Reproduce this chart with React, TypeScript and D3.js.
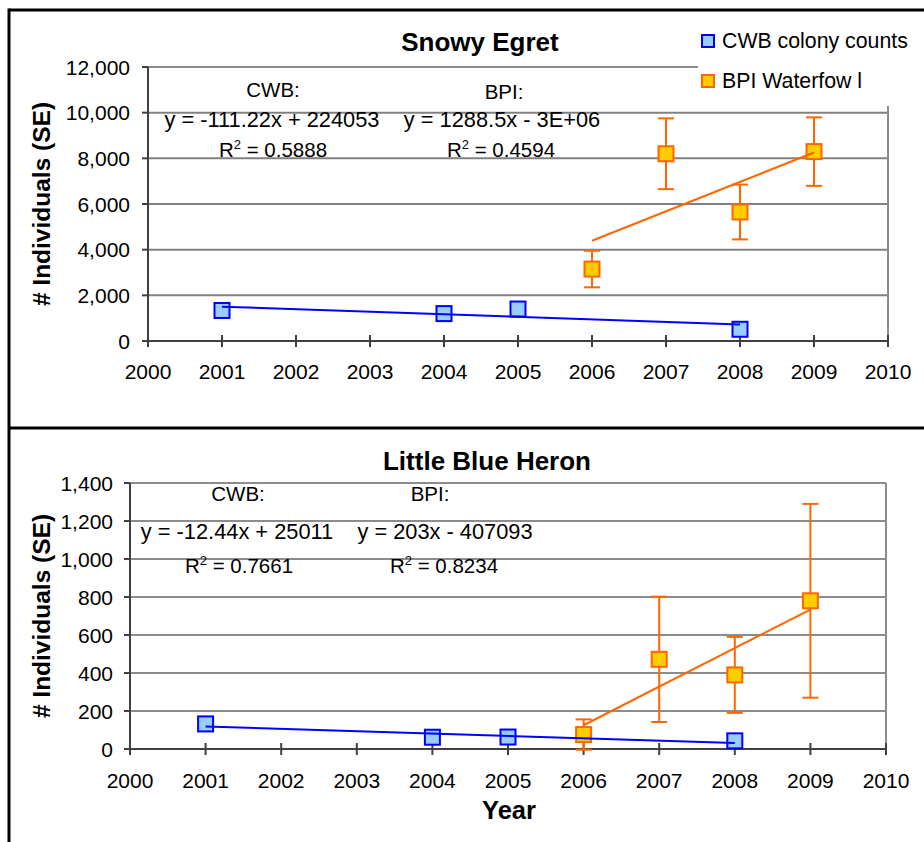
import React from "react";
import * as d3 from "d3";

// Survey years for each data source
const cwbYears = [2001, 2004, 2005, 2008];
const bpiYears = [2006, 2007, 2008, 2009];

// Snowy Egret counts
const egretCwb = [1337, 1200, 1400, 514];
const egretBpi = [3150, 8200, 5650, 8295];
const egretBpiSe = [800, 1550, 1200, 1500];

// Little Blue Heron counts
const heronCwb = [132, 62, 63, 43];
const heronBpi = [76, 472, 390, 780];
const heronBpiSe = [80, 330, 200, 510];

const yearTicks = d3.range(2000, 2011);
const egretTicks = d3.range(0, 12001, 2000);
const heronTicks = d3.range(0, 1401, 200);

const legendLabels = ["CWB colony counts", "BPI Waterfow l"];

const egretCwbLabel = ["CWB:", "y = -111.22x + 224053", "0.5888"];
const egretBpiLabel = ["BPI:", "y = 1288.5x - 3E+06", "0.4594"];
const heronCwbLabel = ["CWB:", "y = -12.44x + 25011", "0.7661"];
const heronBpiLabel = ["BPI:", "y = 203x - 407093", "0.8234"];

const FONT = "'Liberation Sans', Arial, Helvetica, sans-serif";
const BLUE = "#0000FF";
const BLUE_FILL = "#99CCFF";
const ORANGE = "#FF6600";
const ORANGE_FILL = "#FFCC00";

// Ordinary least-squares line through (x, y)
function fit(xs: number[], ys: number[]) {
  const mx = d3.mean(xs) as number;
  const my = d3.mean(ys) as number;
  let sxy = 0;
  let sxx = 0;
  xs.forEach((x, i) => {
    sxy += (x - mx) * (ys[i] - my);
    sxx += (x - mx) * (x - mx);
  });
  const slope = sxy / sxx;
  return { slope, intercept: my - slope * mx };
}

type Note = { lines: string[]; cx: number[]; base: number[] };

type PanelProps = {
  title: string;
  titleX: number;
  titleY: number;
  x0: number;
  x1: number;
  yBottom: number;
  yTop: number;
  yMax: number;
  yTicks: number[];
  cwb: number[];
  bpi: number[];
  bpiSe: number[];
  notes: Note[];
  labelGap: number;
  xLabelBase: number;
  gridColor: string;
  gridWidth: number;
  borderClipX?: number;
  borderClipY?: number;
};

function Marker({ cx, cy, fill, stroke, size }: any) {
  return (
    <rect
      x={cx - size / 2}
      y={cy - size / 2}
      width={size}
      height={size}
      fill={fill}
      stroke={stroke}
      strokeWidth={2}
    />
  );
}

function Panel(p: PanelProps) {
  const x = d3.scaleLinear().domain([2000, 2010]).range([p.x0, p.x1]);
  const y = d3.scaleLinear().domain([0, p.yMax]).range([p.yBottom, p.yTop]);
  const fmt = d3.format(",");
  const cwbFit = fit(cwbYears, p.cwb);
  const bpiFit = fit(bpiYears, p.bpi);
  const line = d3
    .line<number>()
    .x((d) => x(d))
    .y((d) => 0);
  const fitPath = (f: { slope: number; intercept: number }, xs: number[]) =>
    line.y((d) => y(f.slope * d + f.intercept))([xs[0], xs[xs.length - 1]]) as string;
  const topRight = p.borderClipX ?? p.x1;
  const rightTop = p.borderClipY ?? p.yTop;

  return (
    <g fontFamily={FONT}>
      <text x={p.titleX} y={p.titleY} textAnchor="middle" fontSize={26} fontWeight="bold">
        {p.title}
      </text>

      {/* gridlines */}
      {p.yTicks.slice(1, -1).map((t) => (
        <line
          key={t}
          x1={p.x0}
          x2={p.x1}
          y1={y(t)}
          y2={y(t)}
          stroke={p.gridColor}
          strokeWidth={p.gridWidth}
        />
      ))}
      {/* plot area border, top and right */}
      <line x1={p.x0} x2={topRight} y1={p.yTop} y2={p.yTop} stroke="#8c8c8c" strokeWidth={2} />
      <line x1={p.x1} x2={p.x1} y1={rightTop} y2={p.yBottom} stroke="#8c8c8c" strokeWidth={2} />

      {/* y axis */}
      <line x1={p.x0} x2={p.x0} y1={p.yTop} y2={p.yBottom + 6} stroke="#404040" strokeWidth={2} />
      {p.yTicks.map((t) => (
        <g key={t}>
          <line x1={p.x0 - 6} x2={p.x0} y1={y(t)} y2={y(t)} stroke="#404040" strokeWidth={2} />
          <text
            x={p.x0 - p.labelGap}
            y={y(t)}
            dy="0.36em"
            textAnchor="end"
            fontSize={21}
          >
            {fmt(t)}
          </text>
        </g>
      ))}

      {/* x axis */}
      <line x1={p.x0} x2={p.x1} y1={p.yBottom} y2={p.yBottom} stroke="#404040" strokeWidth={2} />
      {yearTicks.map((t) => (
        <g key={t}>
          <line
            x1={x(t)}
            x2={x(t)}
            y1={p.yBottom - 6}
            y2={p.yBottom + 6}
            stroke="#404040"
            strokeWidth={2}
          />
          <text x={x(t)} y={p.xLabelBase} textAnchor="middle" fontSize={21}>
            {t}
          </text>
        </g>
      ))}

      {/* trendline equations */}
      {p.notes.map((n, i) => (
        <g key={i} fontSize={20.5}>
          <text x={n.cx[0]} y={n.base[0]} textAnchor="middle">
            {n.lines[0]}
          </text>
          <text x={n.cx[1]} y={n.base[1]} textAnchor="middle" fontSize={21.8}>
            {n.lines[1]}
          </text>
          <text x={n.cx[2]} y={n.base[2]} textAnchor="middle">
            R<tspan fontSize={13} dy={-8}>2</tspan>
            <tspan dy={8}>{" = " + n.lines[2]}</tspan>
          </text>
        </g>
      ))}

      {/* BPI error bars */}
      {bpiYears.map((yr, i) => {
        const hi = y(p.bpi[i] + p.bpiSe[i]);
        const lo = y(p.bpi[i] - p.bpiSe[i]);
        const cx = x(yr);
        return (
          <g key={yr} stroke={ORANGE} strokeWidth={2}>
            <line x1={cx} x2={cx} y1={hi} y2={lo} />
            <line x1={cx - 8} x2={cx + 8} y1={hi} y2={hi} />
            <line x1={cx - 8} x2={cx + 8} y1={lo} y2={lo} />
          </g>
        );
      })}

      {/* markers */}
      {cwbYears.map((yr, i) => (
        <Marker key={"c" + yr} cx={x(yr)} cy={y(p.cwb[i])} fill={BLUE_FILL} stroke={BLUE} size={15} />
      ))}
      {bpiYears.map((yr, i) => (
        <Marker key={"b" + yr} cx={x(yr)} cy={y(p.bpi[i])} fill={ORANGE_FILL} stroke={ORANGE} size={15} />
      ))}

      {/* linear trendlines */}
      <path d={fitPath(cwbFit, cwbYears)} stroke={BLUE} strokeWidth={2} fill="none" />
      <path d={fitPath(bpiFit, bpiYears)} stroke={ORANGE} strokeWidth={2} fill="none" />
    </g>
  );
}

export default function App() {
  return (
    <div style={{ position: "absolute", left: 0, top: 0 }}>
      <svg width={924} height={842} style={{ display: "block", background: "#fff" }}>
        <rect x={0} y={0} width={924} height={842} fill="#fff" />

        <Panel
          title="Snowy Egret"
          titleX={480}
          titleY={51}
          x0={148}
          x1={888}
          yBottom={341}
          yTop={67}
          yMax={12000}
          yTicks={egretTicks}
          cwb={egretCwb}
          bpi={egretBpi}
          bpiSe={egretBpiSe}
          notes={[
            { lines: egretCwbLabel, cx: [273, 272, 273], base: [97, 127, 157] },
            { lines: egretBpiLabel, cx: [504, 502, 501], base: [99, 127, 157] },
          ]}
          labelGap={18}
          xLabelBase={379}
          gridColor="#808080"
          gridWidth={2}
          borderClipX={698}
          borderClipY={106}
        />

        {/* legend */}
        <g fontFamily={FONT} fontSize={21.3}>
          {legendLabels.map((label, i) => (
            <g key={label}>
              <rect
                x={702}
                y={35 + i * 40}
                width={12}
                height={12}
                fill={i === 0 ? BLUE_FILL : ORANGE_FILL}
                stroke={i === 0 ? BLUE : ORANGE}
                strokeWidth={2}
              />
              <text x={722} y={48 + i * 40}>
                {label}
              </text>
            </g>
          ))}
        </g>

        <Panel
          title="Little Blue Heron"
          titleX={487}
          titleY={470}
          x0={130}
          x1={886}
          yBottom={749}
          yTop={483}
          yMax={1400}
          yTicks={heronTicks}
          cwb={heronCwb}
          bpi={heronBpi}
          bpiSe={heronBpiSe}
          notes={[
            { lines: heronCwbLabel, cx: [238, 237, 239], base: [501, 539, 573] },
            { lines: heronBpiLabel, cx: [430, 445, 444], base: [501, 539, 573] },
          ]}
          labelGap={17}
          xLabelBase={788}
          gridColor="#1a1a1a"
          gridWidth={1.2}
        />

        {/* axis titles */}
        <g fontFamily={FONT} fontWeight="bold" fontSize={24.5}>
          <text transform="translate(50,204) rotate(-90)" textAnchor="middle">
            # Individuals (SE)
          </text>
          <text transform="translate(50,616) rotate(-90)" textAnchor="middle">
            # Individuals (SE)
          </text>
          <text x={509} y={819} textAnchor="middle" fontSize={25.5}>
            Year
          </text>
        </g>

        {/* chart frames */}
        <line x1={9} x2={924} y1={10} y2={10} stroke="#000" strokeWidth={3} />
        <line x1={9} x2={924} y1={428} y2={428} stroke="#000" strokeWidth={3} />
        <line x1={9} x2={9} y1={8.5} y2={842} stroke="#000" strokeWidth={3} />
      </svg>
    </div>
  );
}
